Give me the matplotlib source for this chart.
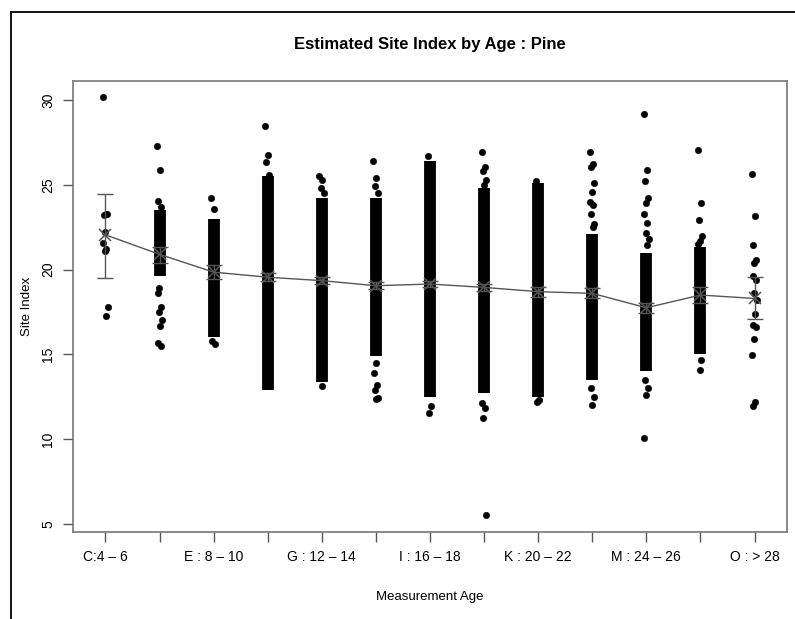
import numpy as np
import matplotlib
matplotlib.use("Agg")
import matplotlib.pyplot as plt
from matplotlib.lines import Line2D

plt.rcParams['font.family'] = ['Liberation Sans', 'DejaVu Sans']

# ---------------- data ----------------
categories = ['C', 'D', 'E', 'F', 'G', 'H', 'I', 'J', 'K', 'L', 'M', 'N', 'O']
tick_labels = ['C:4 \u2013 6', '', 'E : 8 \u2013 10', '', 'G : 12 \u2013 14', '',
               'I : 16 \u2013 18', '', 'K : 20 \u2013 22', '', 'M : 24 \u2013 26', '',
               'O : > 28']

# dense parts of each strip (low, high); None = no dense part
dense_lo = [None, 19.6, 16.0, 12.9, 13.4, 14.9, 12.5, 12.7, 12.5, 13.5, 14.0, 15.0, None]
dense_hi = [None, 23.5, 23.0, 25.5, 24.2, 24.2, 26.4, 24.8, 25.1, 22.1, 21.0, 21.35, None]

# individually visible points of each strip
pts_C = [30.15, 23.3, 23.2, 23.25, 22.2, 21.55, 21.2, 21.1, 17.8, 17.25]
pts_D = [27.3, 25.9, 24.05, 23.7, 18.9, 18.6, 17.8, 17.5, 17.05, 16.65, 15.65, 15.5]
pts_E = [24.25, 23.6, 15.8, 15.6]
pts_F = [28.45, 26.75, 26.35, 25.6]
pts_G = [25.5, 25.3, 24.8, 24.5, 13.15]
pts_H = [26.4, 25.4, 24.95, 24.5, 14.5, 13.9, 13.2, 12.9, 12.45, 12.4]
pts_I = [26.7, 11.95, 11.55]
pts_J = [26.95, 26.05, 25.8, 25.3, 25.0, 12.15, 11.85, 11.25, 5.55]
pts_K = [25.25, 12.3, 12.2]
pts_L = [26.95, 26.25, 26.05, 25.1, 24.6, 24.0, 23.8, 23.3, 22.7, 22.5, 13.0, 12.5, 12.0]
pts_M = [29.15, 25.85, 25.25, 24.2, 23.95, 23.3, 22.75, 22.15, 21.8, 21.45,
         13.5, 13.0, 12.6, 10.05]
pts_N = [27.05, 23.9, 22.9, 22.0, 21.7, 21.5, 14.7, 14.1]
pts_O = [25.65, 23.15, 21.45, 20.55, 20.4, 19.6, 19.4, 18.6, 18.2, 17.4,
         16.75, 16.6, 15.9, 14.95, 12.2, 11.95]
points = [pts_C, pts_D, pts_E, pts_F, pts_G, pts_H, pts_I, pts_J, pts_K,
          pts_L, pts_M, pts_N, pts_O]

# means and confidence limits
means = [22.05, 20.9, 19.85, 19.55, 19.35, 19.05, 19.15, 18.95, 18.7, 18.6, 17.75, 18.5, 18.3]
ci_lo = [19.5, 20.4, 19.45, 19.3, 19.15, 18.85, 19.0, 18.75, 18.4, 18.3, 17.45, 18.05, 17.08]
ci_hi = [24.45, 21.35, 20.25, 19.8, 19.55, 19.25, 19.3, 19.15, 19.0, 18.9, 18.05, 18.95, 19.58]

title = 'Estimated Site Index by Age : Pine'
xlabel = 'Measurement Age'
ylabel = 'Site Index'

# ---------------- figure ----------------
W, H = 795, 619
fig = plt.figure(figsize=(W / 100, H / 100), dpi=100)
ax = fig.add_axes([73 / W, 1 - 532 / H, (787 - 73) / W, (532 - 81) / H])

xpos = np.arange(1, len(categories) + 1)
dot_ms = 4.6
band_lw = 8.5

for i, x in enumerate(xpos):
    if dense_lo[i] is not None:
        ax.vlines(x, dense_lo[i], dense_hi[i], colors='black', lw=band_lw,
                  capstyle='butt', zorder=2)
    ys = points[i]
    offs = (((np.arange(len(ys)) * 0.618034) % 1.0) - 0.5) * 0.09
    ax.plot(x + offs, ys, 'o', color='black', ms=dot_ms, mec='black', mew=0.4,
            linestyle='none', zorder=3)

grey = '#555555'
ax.plot(xpos, means, '-', color=grey, lw=1.0, zorder=4)
yerr = [np.array(means) - np.array(ci_lo), np.array(ci_hi) - np.array(means)]
ax.errorbar(xpos, means, yerr=yerr, fmt='none', ecolor=grey, elinewidth=1.0,
            capsize=6, capthick=1.0, zorder=5)
ax.plot(xpos, means, 'x', color=grey, ms=9, mew=1.1, linestyle='none', zorder=6)

ax.set_xlim(0.4, 13.6)
ax.set_ylim(4.53, 31.12)
ax.set_xticks(xpos)
ax.set_xticklabels(tick_labels, fontsize=10)
ax.set_yticks([5, 10, 15, 20, 25, 30])
ax.set_yticklabels(['5', '10', '15', '20', '25', '30'], rotation=90, va='center',
                   fontsize=10)
ax.tick_params(axis='both', direction='out', length=7, width=1, color='#555555',
               pad=6)
ax.tick_params(axis='x', pad=6)
for s in ax.spines.values():
    s.set_color('#777777')
    s.set_linewidth(1.2)

ax.set_xlabel(xlabel, fontsize=9.5)
ax.set_ylabel(ylabel, fontsize=9.5)
ax.xaxis.set_label_coords((430 - 73) / 714, (532 - 597) / 451)
ax.yaxis.set_label_coords((27 - 73) / 714, 0.5)
ax.xaxis.label.set_va('center')
ax.yaxis.label.set_va('center')
fig.text(430 / W, 1 - 45 / H, title, ha='center', va='center', fontsize=12,
         fontweight='bold')

# page frame lines (left and top)
fig.add_artist(Line2D([11 / W, 11 / W], [0, 1 - 12 / H], color='black', lw=1.3,
                      transform=fig.transFigure))
fig.add_artist(Line2D([11 / W, 1], [1 - 12 / H, 1 - 12 / H], color='black', lw=1.3,
                      transform=fig.transFigure))

fig.savefig('out.png', dpi=100)
